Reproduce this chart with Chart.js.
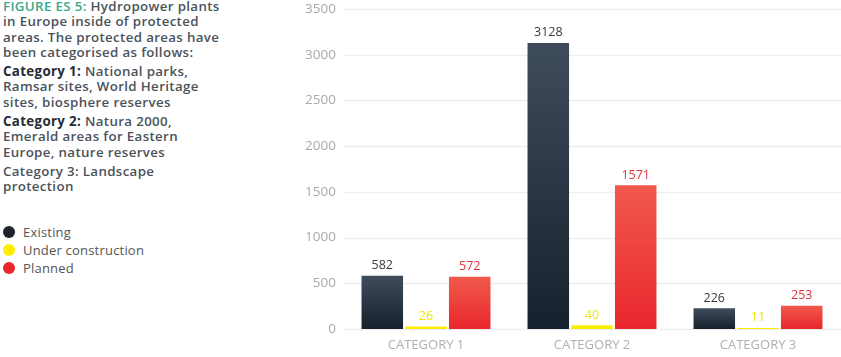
<!DOCTYPE html>
<html><head><meta charset="utf-8">
<script src="https://cdn.jsdelivr.net/npm/chart.js@4/dist/chart.umd.min.js"></script>
<style>
html,body{margin:0;padding:0;background:#fff;width:841px;height:357px;overflow:hidden;font-family:"Open Sans",sans-serif;}
#side{position:absolute;left:3px;top:-1px;width:290px;font-size:13.3px;line-height:15.3px;color:#4b525b;font-weight:600;letter-spacing:0.35px;white-space:nowrap;}
#side p{margin:0 0 4px 0;}
#side .t{color:#3aa88a;}
#side b{color:#262d36;font-weight:700;}
#legend{position:absolute;left:3px;top:223px;font-size:13px;color:#555;letter-spacing:0.2px;}
#legend div{height:18px;line-height:18px;display:flex;align-items:center;}
#legend span.d{display:inline-block;width:12px;height:12px;border-radius:50%;margin-right:8px;}
#wrap{position:absolute;left:290px;top:0;width:551px;height:357px;}
</style></head><body>
<div id="side">
<p><span class="t">FIGURE ES 5:</span> Hydropower plants<br>in Europe inside of protected<br>areas. The protected areas have<br>been categorised as follows:</p>
<p><b>Category 1:</b> National parks,<br>Ramsar sites, World Heritage<br>sites, biosphere reserves</p>
<p><b>Category 2:</b> Natura 2000,<br>Emerald areas for Eastern<br>Europe, nature reserves</p>
<p>Category 3: Landscape<br>protection</p>
</div>
<div id="legend"></div>
<div id="wrap"><canvas id="c"></canvas></div>
<script>
const categories = ["CATEGORY 1", "CATEGORY 2", "CATEGORY 3"];
const existing = [582, 3128, 226];
const underConstruction = [26, 40, 11];
const planned = [572, 1571, 253];
const yTicks = [0, 500, 1000, 1500, 2000, 2500, 3000, 3500];
const seriesNames = ["Existing", "Under construction", "Planned"];

const styles = [
  {top:"#3f4c5a", bottom:"#16212d", label:"#333a42", dot:"#1e242b"},
  {top:"#fff200", bottom:"#f7e800", label:"#f2e600", dot:"#ffee00"},
  {top:"#f15a4c", bottom:"#e8262c", label:"#e0343c", dot:"#e8262c"}
];

const leg = document.getElementById('legend');
seriesNames.forEach((n,i)=>{
  const d=document.createElement('div');
  d.innerHTML='<span class="d" style="background:'+styles[i].dot+'"></span>'+n;
  leg.appendChild(d);
});

function grad(i){
  return function(ctx){
    const chart=ctx.chart; const ys=chart.scales.y;
    if(!ys || ctx.parsed===undefined || ctx.type!=='data') return styles[i].top;
    const y0=ys.getPixelForValue(ctx.parsed.y), y1=ys.getPixelForValue(0);
    if(!isFinite(y0)||!isFinite(y1)||y0===y1) return styles[i].top;
    const g=chart.ctx.createLinearGradient(0,y0,0,y1);
    g.addColorStop(0,styles[i].top); g.addColorStop(1,styles[i].bottom);
    return g;
  };
}

const gridPlugin={
  id:'grid',
  beforeDatasetsDraw(chart){
    const ys=chart.scales.y, ctx=chart.ctx, left=chart.chartArea.left, right=chart.width;
    ctx.save();
    ctx.strokeStyle="#eeeeee";ctx.lineWidth=1.3;
    yTicks.forEach(v=>{
      const y=Math.round(ys.getPixelForValue(v))+0.5;
      ctx.beginPath();ctx.moveTo(left,y);ctx.lineTo(right,y);ctx.stroke();
    });
    ctx.restore();
  }
};

const labelPlugin={
  id:'vals',
  afterDatasetsDraw(chart){
    const ctx=chart.ctx;
    chart.data.datasets.forEach((ds,i)=>{
      const meta=chart.getDatasetMeta(i);
      meta.data.forEach((bar,j)=>{
        ctx.save();
        ctx.fillStyle=styles[i].label;
        ctx.font='12.5px "Open Sans"';
        ctx.textAlign='center';ctx.textBaseline='bottom';
        ctx.fillText(String(ds.data[j]),bar.x,bar.y-4);
        ctx.restore();
      });
    });
  }
};

new Chart(document.getElementById('c'),{
  type:'bar',
  data:{labels:categories,datasets:[
    {label:seriesNames[0],data:existing,backgroundColor:grad(0)},
    {label:seriesNames[1],data:underConstruction,backgroundColor:grad(1)},
    {label:seriesNames[2],data:planned,backgroundColor:grad(2)}
  ]},
  options:{
    responsive:true,maintainAspectRatio:false,animation:false,
    layout:{padding:{top:9,right:0,bottom:0,left:0}},
    datasets:{bar:{categoryPercentage:0.79,barPercentage:0.95}},
    plugins:{legend:{display:false},tooltip:{enabled:false}},
    scales:{
      x:{grid:{display:false,drawTicks:false},border:{display:false},
        ticks:{color:"#b0b0b0",font:{family:"Open Sans",size:13},padding:8},
        afterFit(s){s.height=28;s.paddingLeft=0;s.paddingRight=0;}},
      y:{min:0,max:3500,afterBuildTicks(s){s.ticks=yTicks.map(v=>({value:v}));},
        grid:{display:false,drawTicks:false},border:{display:false},
        ticks:{color:"#aaaaaa",font:{family:"Open Sans",size:13.5},padding:7,callback:v=>String(v)},
        afterFit(s){s.width=53;s.paddingTop=0;s.paddingBottom=0;}}
    }
  },
  plugins:[gridPlugin,labelPlugin]
});
</script>
</body></html>
